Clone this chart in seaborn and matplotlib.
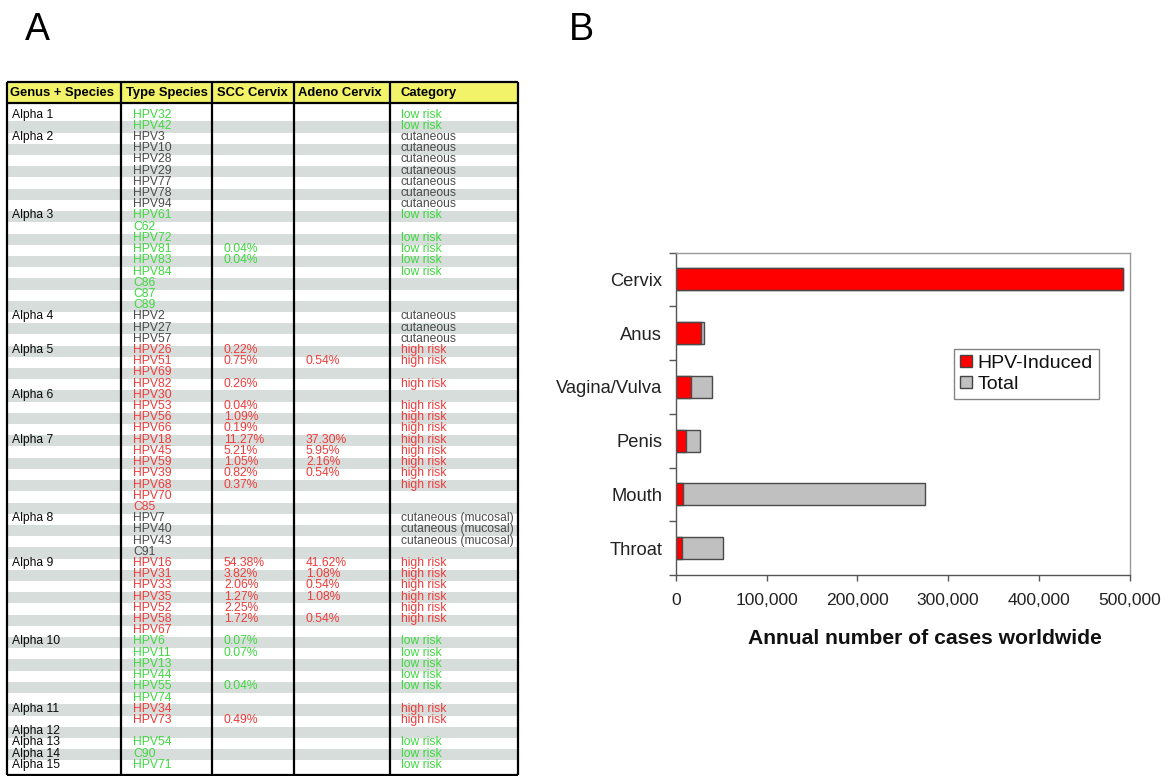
import numpy as np
import pandas as pd
import matplotlib
matplotlib.use("Agg")
import matplotlib.pyplot as plt
from matplotlib.patches import Patch
import seaborn as sns

# ---------------- Panel A data (table) ----------------
header = ["Genus + Species", "Type Species", "SCC Cervix", "Adeno Cervix", "Category"]

genus = ["Alpha 1", "", "Alpha 2", "", "", "", "", "", "",
         "Alpha 3", "", "", "", "", "", "", "", "",
         "Alpha 4", "", "",
         "Alpha 5", "", "", "",
         "Alpha 6", "", "", "",
         "Alpha 7", "", "", "", "", "", "",
         "Alpha 8", "", "", "",
         "Alpha 9", "", "", "", "", "", "",
         "Alpha 10", "", "", "", "", "",
         "Alpha 11", "",
         "Alpha 12", "Alpha 13", "Alpha 14", "Alpha 15"]

type_species = ["HPV32", "HPV42", "HPV3", "HPV10", "HPV28", "HPV29", "HPV77", "HPV78", "HPV94",
                "HPV61", "C62", "HPV72", "HPV81", "HPV83", "HPV84", "C86", "C87", "C89",
                "HPV2", "HPV27", "HPV57",
                "HPV26", "HPV51", "HPV69", "HPV82",
                "HPV30", "HPV53", "HPV56", "HPV66",
                "HPV18", "HPV45", "HPV59", "HPV39", "HPV68", "HPV70", "C85",
                "HPV7", "HPV40", "HPV43", "C91",
                "HPV16", "HPV31", "HPV33", "HPV35", "HPV52", "HPV58", "HPV67",
                "HPV6", "HPV11", "HPV13", "HPV44", "HPV55", "HPV74",
                "HPV34", "HPV73",
                "", "HPV54", "C90", "HPV71"]

scc_cervix = ["", "", "", "", "", "", "", "", "",
              "", "", "", "0.04%", "0.04%", "", "", "", "",
              "", "", "",
              "0.22%", "0.75%", "", "0.26%",
              "", "0.04%", "1.09%", "0.19%",
              "11.27%", "5.21%", "1.05%", "0.82%", "0.37%", "", "",
              "", "", "", "",
              "54.38%", "3.82%", "2.06%", "1.27%", "2.25%", "1.72%", "",
              "0.07%", "0.07%", "", "", "0.04%", "",
              "", "0.49%",
              "", "", "", ""]

adeno_cervix = ["", "", "", "", "", "", "", "", "",
                "", "", "", "", "", "", "", "", "",
                "", "", "",
                "", "0.54%", "", "",
                "", "", "", "",
                "37.30%", "5.95%", "2.16%", "0.54%", "", "", "",
                "", "", "", "",
                "41.62%", "1.08%", "0.54%", "1.08%", "", "0.54%", "",
                "", "", "", "", "", "",
                "", "",
                "", "", "", ""]

category = ["low risk", "low risk"] + ["cutaneous"] * 7 + \
           ["low risk", "", "low risk", "low risk", "low risk", "low risk", "", "", ""] + \
           ["cutaneous"] * 3 + \
           ["high risk", "high risk", "", "high risk"] + \
           ["", "high risk", "high risk", "high risk"] + \
           ["high risk"] * 5 + ["", ""] + \
           ["cutaneous (mucosal)"] * 3 + [""] + \
           ["high risk"] * 6 + [""] + \
           ["low risk"] * 5 + [""] + \
           ["high risk", "high risk"] + \
           ["", "low risk", "low risk", "low risk"]

group = ["low"] * 2 + ["cut"] * 7 + ["low"] * 9 + ["cut"] * 3 + ["high"] * 15 + \
        ["cut"] * 4 + ["high"] * 7 + ["low"] * 6 + ["high"] * 2 + ["none", "low", "low", "low"]

# ---------------- Panel B data (bar chart) ----------------
sites = ["Cervix", "Anus", "Vagina/Vulva", "Penis", "Mouth", "Throat"]
total_cases = [492800, 30400, 40000, 26300, 274300, 52100]
hpv_cases = [492800, 27300, 16000, 10500, 8200, 6200]
x_ticks = [0, 100000, 200000, 300000, 400000, 500000]
x_tick_labels = ["0", "100,000", "200,000", "300,000", "400,000", "500,000"]
legend_labels = ["HPV-Induced", "Total"]
x_label = "Annual number of cases worldwide"

# ---------------- styling ----------------
sns.set_theme(style="white")
plt.rcParams["font.family"] = ["Liberation Sans", "DejaVu Sans"]

W, H = 1171, 776
fig = plt.figure(figsize=(W / 100, H / 100), dpi=100)
fig.patch.set_facecolor("white")

# Full-figure axes in pixel coordinates for the table
tab = fig.add_axes([0, 0, 1, 1])
tab.set_xlim(0, W)
tab.set_ylim(H, 0)
tab.axis("off")

text_colors = {"low": "#3fd83f", "cut": "#4a4a4a", "high": "#ef3b3b", "none": "#111111"}
stripe = "#d7ddda"
yellow = "#f3f36a"

left, right = 6.7, 518.3
col_x = [left, 121, 212.3, 294.3, 390, right]
head_top, head_bot = 82, 103
tab_bottom = 774.5
row0, pitch = 115.8, 11.21
n = len(type_species)
centers = row0 + pitch * np.arange(n)

# header
tab.barh([(head_top + head_bot) / 2], [right - left], left=left, height=head_bot - head_top,
         color=yellow, zorder=1)
# stripes
even = centers[1::2]
tab.barh(even, [right - left] * len(even), left=left, height=pitch, color=stripe,
         linewidth=0, zorder=1)
# lines
tab.vlines(col_x, head_top, tab_bottom, color="black", lw=1.6, zorder=3)
tab.hlines([head_top, head_bot, tab_bottom], left, right, color="black", lw=1.6, zorder=3)

head_x = [10, 125.5, 217, 298, 400.7]
for hx, ht in zip(head_x, header):
    tab.text(hx, (head_top + head_bot) / 2 + 0.5, ht, fontsize=9.4, fontweight="bold",
             ha="left", va="center", color="black", zorder=4)

x_genus, x_type, x_scc, x_adeno, x_cat = 11.5, 133, 224, 306, 400.7
fs = 8.7
for i in range(n):
    y = centers[i] - 1.2
    c = text_colors[group[i]]
    if genus[i]:
        tab.text(x_genus, y, genus[i], fontsize=fs, color="#0a0a0a", ha="left", va="center", zorder=4)
    if type_species[i]:
        tab.text(x_type, y, type_species[i], fontsize=fs, color=c, ha="left", va="center", zorder=4)
    if scc_cervix[i]:
        tab.text(x_scc, y, scc_cervix[i], fontsize=fs, color=c, ha="left", va="center", zorder=4)
    if adeno_cervix[i]:
        tab.text(x_adeno, y, adeno_cervix[i], fontsize=fs, color=c, ha="left", va="center", zorder=4)
    if category[i]:
        tab.text(x_cat, y, category[i], fontsize=fs, color=c, ha="left", va="center", zorder=4)

# panel labels
tab.text(25, 40, "A", fontsize=27, color="black", ha="left", va="baseline")
tab.text(569, 40, "B", fontsize=27, color="black", ha="left", va="baseline")

# ---------------- Panel B ----------------
ax_l, ax_r, ax_t, ax_b = 676, 1129.5, 252.5, 575
ax = fig.add_axes([ax_l / W, (H - ax_b) / H, (ax_r - ax_l) / W, (ax_b - ax_t) / H])
df = pd.DataFrame({"site": sites, "total": total_cases, "hpv": hpv_cases})

sns.barplot(data=df, x="total", y="site", orient="h", color="#c0c0c0", saturation=1,
            edgecolor="#4a4a4a", linewidth=1.0, width=0.41, errorbar=None, ax=ax)
sns.barplot(data=df, x="hpv", y="site", orient="h", color="#ff0000", saturation=1,
            edgecolor="#4a4a4a", linewidth=1.0, width=0.41, errorbar=None, ax=ax)

ax.set_xlim(0, 500000)
ax.set_ylim(len(sites) - 0.5, -0.5)
ax.set_xticks(x_ticks)
ax.set_xticklabels(x_tick_labels, fontsize=12.6, color="#222222")
ax.set_yticks(range(len(sites)))
ax.set_yticklabels(sites, fontsize=13.2, color="#222222")
ax.set_yticks(np.arange(-0.5, len(sites), 1.0), minor=True)
ax.tick_params(axis="y", which="major", left=True, length=0, pad=10)
ax.tick_params(axis="y", which="minor", left=True, length=5, width=1, color="#555555",
               direction="out")
ax.tick_params(axis="x", which="major", bottom=True, length=4, width=1, color="#555555",
               direction="out", pad=9)
ax.set_xlabel(x_label, fontsize=15.2, fontweight="bold", color="#111111")
ax.xaxis.set_label_coords((924.5 - ax_l) / (ax_r - ax_l), -(638 - ax_b) / (ax_b - ax_t))
ax.xaxis.label.set_va("center")
ax.set_ylabel("")
for side in ["left", "bottom"]:
    ax.spines[side].set_color("#555555")
    ax.spines[side].set_linewidth(1.0)
for side in ["top", "right"]:
    ax.spines[side].set_color("#999999")
    ax.spines[side].set_linewidth(1.0)
    ax.spines[side].set_visible(True)

handles = [Patch(facecolor="#ff0000", edgecolor="#444444"),
           Patch(facecolor="#c0c0c0", edgecolor="#444444")]
leg = ax.legend(handles, legend_labels, loc="upper left", bbox_to_anchor=(0.613, 0.701),
                fontsize=14, frameon=True, fancybox=False, edgecolor="#666666",
                handlelength=0.62, handleheight=0.62, handletextpad=0.3,
                labelspacing=0.2, borderpad=0.3, borderaxespad=0)
leg.get_frame().set_linewidth(1.0)
for t in leg.get_texts():
    t.set_color("#111111")

fig.savefig("out.png", dpi=100, facecolor="white")
